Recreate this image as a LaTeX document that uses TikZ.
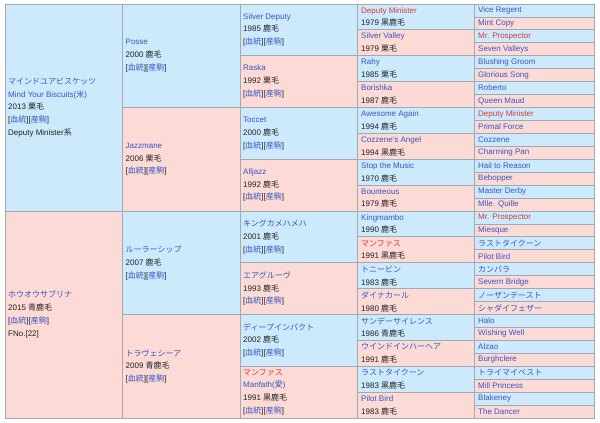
\documentclass[tikz,border=0pt]{standalone}
\usepackage{fontspec}
\setmainfont{Liberation Sans}
\newfontfamily\jpfont{Noto Sans CJK JP}
\definecolor{cblue}{RGB}{205,234,252}
\definecolor{cpink}{RGB}{252,218,213}
\definecolor{bordergray}{RGB}{162,169,177}
\definecolor{linkblue}{RGB}{54,86,196}
\definecolor{linkred}{RGB}{212,58,58}
\definecolor{textblack}{RGB}{32,33,34}
\colorlet{c0}{cblue}
\colorlet{c1}{cpink}
\newcommand\jtxt[1]{{\jpfont #1}}
\newcommand\lnk[1]{\textcolor{linkblue}{#1}}
\newcommand\rlnk[1]{\textcolor{linkred}{#1}}
\newcommand\ksb{[\lnk{\jtxt{血統}}][\lnk{\jtxt{産駒}}]}
\begin{document}
\begin{tikzpicture}[x=1pt,y=-1pt,
  cellbox/.style={draw=bordergray, line width=0.8pt},
  celltext/.style={anchor=west, align=left, inner sep=0pt, text=textblack,
    font=\fontsize{8}{12.8}\selectfont}]
\useasboundingbox (0,0) rectangle (600,423);
\fill[white] (0,0) rectangle (600,423);
\def\H{25.875}
% column 1
\foreach \t [count=\i from 0] in {
  {\lnk{\jtxt{マインドユアビスケッツ}}\\\lnk{Mind Your Biscuits(\jtxt{米})}\\2013 \jtxt{栗毛}\\\ksb\\Deputy Minister\jtxt{系}},
  {\lnk{\jtxt{ホウオウサブリナ}}\\2015 \jtxt{青鹿毛}\\\ksb\\FNo.[22]}} {
  \pgfmathtruncatemacro\m{mod(\i,2)}
  \pgfmathsetmacro\ya{4+\i*8*\H}
  \pgfmathsetmacro\yb{4+(\i+1)*8*\H}
  \draw[cellbox, fill=c\m] (5,\ya) rectangle (122.5,\yb);
  \node[celltext] (a\i) at (8,{(\ya+\yb)/2}) {\t};
}
% column 2
\foreach \t [count=\i from 0] in {
  {\lnk{Posse}\\2000 \jtxt{鹿毛}\\\ksb},
  {\lnk{Jazzmane}\\2006 \jtxt{栗毛}\\\ksb},
  {\lnk{\jtxt{ルーラーシップ}}\\2007 \jtxt{鹿毛}\\\ksb},
  {\lnk{\jtxt{トラヴェシーア}}\\2009 \jtxt{青鹿毛}\\\ksb}} {
  \pgfmathtruncatemacro\m{mod(\i,2)}
  \pgfmathsetmacro\ya{4+\i*4*\H}
  \pgfmathsetmacro\yb{4+(\i+1)*4*\H}
  \draw[cellbox, fill=c\m] (122.5,\ya) rectangle (240,\yb);
  \node[celltext] (b\i) at (125.5,{(\ya+\yb)/2}) {\t};
}
% column 3
\foreach \t [count=\i from 0] in {
  {\lnk{Silver Deputy}\\1985 \jtxt{鹿毛}\\\ksb},
  {\lnk{Raska}\\1992 \jtxt{栗毛}\\\ksb},
  {\lnk{Toccet}\\2000 \jtxt{鹿毛}\\\ksb},
  {\lnk{Alljazz}\\1992 \jtxt{鹿毛}\\\ksb},
  {\lnk{\jtxt{キングカメハメハ}}\\2001 \jtxt{鹿毛}\\\ksb},
  {\lnk{\jtxt{エアグルーヴ}}\\1993 \jtxt{鹿毛}\\\ksb},
  {\lnk{\jtxt{ディープインパクト}}\\2002 \jtxt{鹿毛}\\\ksb},
  {\rlnk{\jtxt{マンファス}}\\\lnk{Manfath(\jtxt{愛})}\\1991 \jtxt{黒鹿毛}\\\ksb}} {
  \pgfmathtruncatemacro\m{mod(\i,2)}
  \pgfmathsetmacro\ya{4+\i*2*\H}
  \pgfmathsetmacro\yb{4+(\i+1)*2*\H}
  \draw[cellbox, fill=c\m] (240,\ya) rectangle (357,\yb);
  \node[celltext] (c\i) at (243,{(\ya+\yb)/2}) {\t};
}
% column 4
\foreach \t [count=\i from 0] in {
  {\rlnk{Deputy Minister}\\1979 \jtxt{黒鹿毛}},
  {\lnk{Silver Valley}\\1979 \jtxt{栗毛}},
  {\lnk{Rahy}\\1985 \jtxt{栗毛}},
  {\lnk{Borishka}\\1987 \jtxt{鹿毛}},
  {\lnk{Awesome Again}\\1994 \jtxt{鹿毛}},
  {\lnk{Cozzene's Angel}\\1994 \jtxt{黒鹿毛}},
  {\lnk{Stop the Music}\\1970 \jtxt{鹿毛}},
  {\lnk{Bounteous}\\1979 \jtxt{鹿毛}},
  {\lnk{Kingmambo}\\1990 \jtxt{鹿毛}},
  {\rlnk{\jtxt{マンファス}}\\1991 \jtxt{黒鹿毛}},
  {\lnk{\jtxt{トニービン}}\\1983 \jtxt{鹿毛}},
  {\lnk{\jtxt{ダイナカール}}\\1980 \jtxt{鹿毛}},
  {\lnk{\jtxt{サンデーサイレンス}}\\1986 \jtxt{青鹿毛}},
  {\lnk{\jtxt{ウインドインハーヘア}}\\1991 \jtxt{鹿毛}},
  {\lnk{\jtxt{ラストタイクーン}}\\1983 \jtxt{黒鹿毛}},
  {\lnk{Pilot Bird}\\1983 \jtxt{鹿毛}}} {
  \pgfmathtruncatemacro\m{mod(\i,2)}
  \pgfmathsetmacro\ya{4+\i*\H}
  \pgfmathsetmacro\yb{4+(\i+1)*\H}
  \draw[cellbox, fill=c\m] (357,\ya) rectangle (474,\yb);
  \node[celltext] (d\i) at (361,{(\ya+\yb)/2}) {\t};
}
% column 5
\foreach \t [count=\i from 0] in {
  {\lnk{Vice Regent}}, {\lnk{Mint Copy}}, {\rlnk{Mr. Prospector}}, {\lnk{Seven Valleys}},
  {\lnk{Blushing Groom}}, {\lnk{Glorious Song}}, {\lnk{Roberto}}, {\lnk{Queen Maud}},
  {\rlnk{Deputy Minister}}, {\lnk{Primal Force}}, {\lnk{Cozzene}}, {\lnk{Charming Pan}},
  {\lnk{Hail to Reason}}, {\lnk{Bebopper}}, {\lnk{Master Derby}}, {\lnk{Mlle. Quille}},
  {\rlnk{Mr. Prospector}}, {\lnk{Miesque}}, {\lnk{\jtxt{ラストタイクーン}}}, {\lnk{Pilot Bird}},
  {\lnk{\jtxt{カンパラ}}}, {\lnk{Severn Bridge}}, {\lnk{\jtxt{ノーザンテースト}}}, {\lnk{\jtxt{シャダイフェザー}}},
  {\lnk{Halo}}, {\lnk{Wishing Well}}, {\lnk{Alzao}}, {\lnk{Burghclere}},
  {\lnk{\jtxt{トライマイベスト}}}, {\lnk{Mill Princess}}, {\lnk{Blakeney}}, {\lnk{The Dancer}}} {
  \pgfmathtruncatemacro\m{mod(\i,2)}
  \pgfmathsetmacro\ya{4+\i*\H/2}
  \pgfmathsetmacro\yb{4+(\i+1)*\H/2}
  \draw[cellbox, fill=c\m] (474,\ya) rectangle (594,\yb);
  \node[celltext] (e\i) at (478,{(\ya+\yb)/2}) {\t};
}
\end{tikzpicture}
\end{document}
